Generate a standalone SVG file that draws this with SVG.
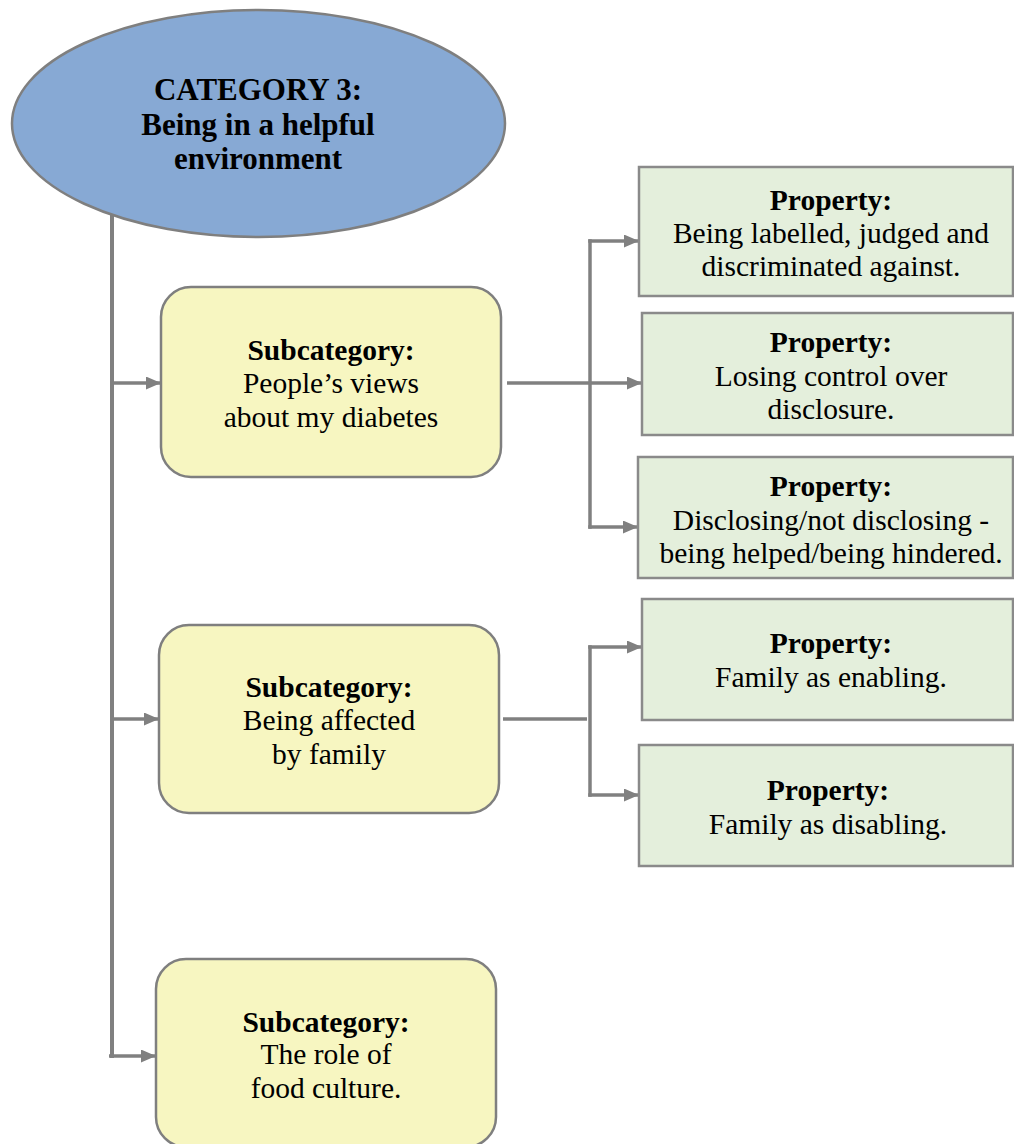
<svg xmlns="http://www.w3.org/2000/svg" width="1014" height="1144" viewBox="0 0 1014 1144">
  <style>
    .lbl { font-family: "Liberation Serif", "Times New Roman", serif; font-size: 29.5px; fill: #000; text-anchor: middle; }
    .b { font-weight: bold; }
    .big { font-size: 31px; }
    .cat { fill: #87a9d4; stroke: #7f7f7f; stroke-width: 2.5; }
    .sub { fill: #f7f6c1; stroke: #7f7f7f; stroke-width: 2.5; }
    .prop { fill: #e4efdc; stroke: #8a8a8a; stroke-width: 2.5; }
    .wire { fill: none; stroke: #808080; stroke-width: 3.5; }
    .arrow { fill: none; stroke: #808080; stroke-width: 3.5; marker-end: url(#head); }
  </style>
  <defs>
    <marker id="head" markerUnits="userSpaceOnUse" markerWidth="15" markerHeight="13" refX="15" refY="6.5" orient="auto">
      <path d="M0,0 L15,6.5 L0,13 z" fill="#808080"/>
    </marker>
  </defs>

  <rect width="1014" height="1144" fill="#ffffff"/>

  <!-- connectors -->
  <g id="connectors">
    <!-- trunk from the category down to the subcategories -->
    <line class="wire" x1="112" y1="214" x2="112" y2="1058" style="stroke-width:4"/>
    <line class="arrow" x1="112" y1="383" x2="161" y2="383"/>
    <line class="arrow" x1="112" y1="719" x2="159" y2="719"/>
    <line class="arrow" x1="109" y1="1056" x2="156" y2="1056"/>
    <!-- subcategory 1 to its properties -->
    <line class="wire" x1="590" y1="239.25" x2="590" y2="528.75"/>
    <line class="wire" x1="507" y1="383" x2="590" y2="383"/>
    <line class="arrow" x1="588.25" y1="241" x2="639" y2="241"/>
    <line class="arrow" x1="590" y1="383" x2="642" y2="383"/>
    <line class="arrow" x1="588.25" y1="527" x2="638" y2="527"/>
    <!-- subcategory 2 to its properties -->
    <line class="wire" x1="503" y1="719" x2="587" y2="719"/>
    <line class="wire" x1="590" y1="645.25" x2="590" y2="796.75"/>
    <line class="arrow" x1="588.25" y1="647" x2="642" y2="647"/>
    <line class="arrow" x1="588.25" y1="795" x2="639" y2="795"/>
  </g>

  <g id="category3">
    <ellipse class="cat" cx="258.5" cy="123.5" rx="246.5" ry="113.5"/>
    <text class="lbl b big" x="258" y="100">CATEGORY 3:</text>
    <text class="lbl b big" x="258" y="135">Being in a helpful</text>
    <text class="lbl b big" x="258" y="169">environment</text>
  </g>

  <g id="sub-views">
    <rect class="sub" x="161" y="287" width="340" height="190" rx="30" ry="30"/>
    <text class="lbl b" x="331" y="360">Subcategory:</text>
    <text class="lbl" x="331" y="393">People’s views</text>
    <text class="lbl" x="331" y="427">about my diabetes</text>
  </g>

  <g id="sub-family">
    <rect class="sub" x="159" y="625" width="340" height="188" rx="30" ry="30"/>
    <text class="lbl b" x="329" y="697">Subcategory:</text>
    <text class="lbl" x="329" y="730">Being affected</text>
    <text class="lbl" x="329" y="764">by family</text>
  </g>

  <g id="sub-food">
    <rect class="sub" x="156" y="959" width="340" height="188" rx="30" ry="30"/>
    <text class="lbl b" x="326" y="1032">Subcategory:</text>
    <text class="lbl" x="326" y="1064">The role of</text>
    <text class="lbl" x="326" y="1098">food culture.</text>
  </g>

  <g id="prop-labelled">
    <rect class="prop" x="639" y="167" width="374" height="129"/>
    <text class="lbl b" x="831" y="210">Property:</text>
    <text class="lbl" x="831" y="243">Being labelled, judged and</text>
    <text class="lbl" x="831" y="276">discriminated against.</text>
  </g>

  <g id="prop-control">
    <rect class="prop" x="642" y="313" width="371" height="122"/>
    <text class="lbl b" x="831" y="352">Property:</text>
    <text class="lbl" x="831" y="386">Losing control over</text>
    <text class="lbl" x="831" y="419">disclosure.</text>
  </g>

  <g id="prop-disclosing">
    <rect class="prop" x="638" y="457" width="375" height="121"/>
    <text class="lbl b" x="831" y="496">Property:</text>
    <text class="lbl" x="831" y="530">Disclosing/not disclosing -</text>
    <text class="lbl" x="831" y="563">being helped/being hindered.</text>
  </g>

  <g id="prop-enabling">
    <rect class="prop" x="642" y="599" width="371" height="121"/>
    <text class="lbl b" x="831" y="653">Property:</text>
    <text class="lbl" x="831" y="687">Family as enabling.</text>
  </g>

  <g id="prop-disabling">
    <rect class="prop" x="639" y="745" width="374" height="121"/>
    <text class="lbl b" x="828" y="800">Property:</text>
    <text class="lbl" x="828" y="834">Family as disabling.</text>
  </g>
</svg>
